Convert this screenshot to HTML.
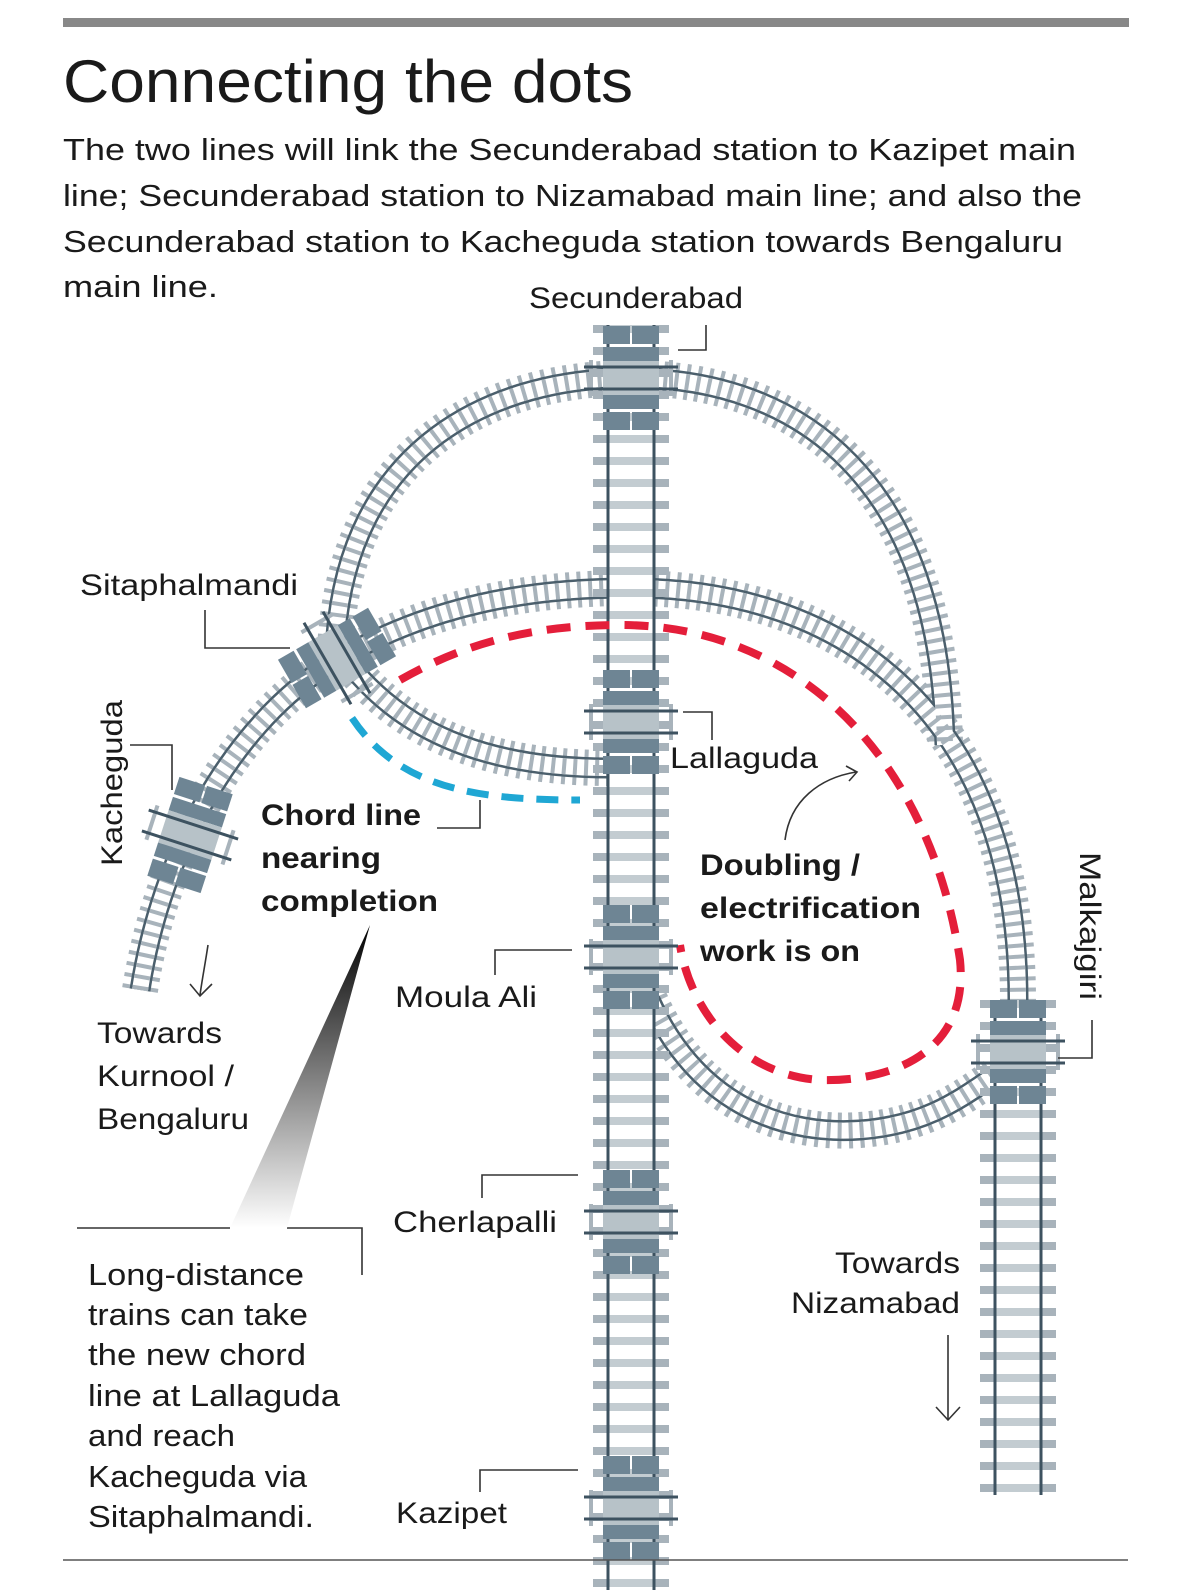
<!DOCTYPE html>
<html><head><meta charset="utf-8"><style>
html,body{margin:0;padding:0;background:#fff}
svg{display:block}
text{font-family:"Liberation Sans",sans-serif;fill:#1a1a1a}
</style></head><body>
<svg width="1200" height="1593" viewBox="0 0 1200 1593" xmlns="http://www.w3.org/2000/svg">
<defs>
<linearGradient id="gr" x1="0" y1="0" x2="0" y2="1"><stop offset="0" stop-color="#000"/><stop offset="1" stop-color="#fff"/></linearGradient>
<g id="st">
<rect x="-28" y="-52" width="27" height="18" fill="#6e8594"/><rect x="1" y="-52" width="27" height="18" fill="#6e8594"/>
<rect x="-28" y="-31" width="56" height="14" fill="#6e8594"/>
<rect x="-28" y="-17" width="56" height="34" fill="#b7c2c8"/>
<rect x="-28" y="17" width="56" height="14" fill="#6e8594"/>
<rect x="-28" y="34" width="27" height="18" fill="#6e8594"/><rect x="1" y="34" width="27" height="18" fill="#6e8594"/>
<rect x="-42" y="-18" width="4" height="36" fill="#a8b3bb"/><rect x="38" y="-18" width="4" height="36" fill="#a8b3bb"/>
<line x1="-47" y1="-11" x2="47" y2="-11" stroke="#3d5260" stroke-width="3"/>
<line x1="-47" y1="11" x2="47" y2="11" stroke="#3d5260" stroke-width="3"/>
</g>
</defs>

<rect x="63" y="18" width="1066" height="9" fill="#888"/>
<text x="63" y="102" font-size="60" textLength="570" lengthAdjust="spacingAndGlyphs">Connecting the dots</text>
<g font-size="31">
<text x="63" y="160" textLength="1013" lengthAdjust="spacingAndGlyphs">The two lines will link the Secunderabad station to Kazipet main</text>
<text x="63" y="206" textLength="1019" lengthAdjust="spacingAndGlyphs">line; Secunderabad station to Nizamabad main line; and also the</text>
<text x="63" y="252" textLength="1000" lengthAdjust="spacingAndGlyphs">Secunderabad station to Kacheguda station towards Bengaluru</text>
<text x="63" y="297" textLength="155" lengthAdjust="spacingAndGlyphs">main line.</text>
</g>

<g fill="none">
<g id="curves">
<path id="c1" d="M335 650 C345 440 500 378 630 378 C800 378 940 480 945 745"/>
<path id="c2" d="M140 990 C165 830 250 710 337 660 C430 605 530 588 630 588 C850 588 1018 720 1018 1000"/>
<path id="c3" d="M350 665 C410 740 500 768 610 768"/>
<path id="c4" d="M650 1000 C700 1110 790 1135 860 1130 C930 1125 965 1095 1000 1072"/>
</g>
<g stroke="#a8b3bb" stroke-width="36" stroke-dasharray="4 7">
<use href="#c1"/><use href="#c2"/><use href="#c3"/><use href="#c4"/></g>
<g stroke="#4b5f6c" stroke-width="21">
<use href="#c1"/><use href="#c2"/><use href="#c3"/><use href="#c4"/></g>
<g stroke="#fff" stroke-width="16">
<use href="#c1"/><use href="#c2"/><use href="#c3"/><use href="#c4"/></g>
<g stroke="#a8b3bb" stroke-width="16" stroke-dasharray="4 7">
<use href="#c1"/><use href="#c2"/><use href="#c3"/><use href="#c4"/></g>

<path id="m1" d="M631 325 V1590"/>
<path id="m2" d="M1018 1000 V1495"/>
<g stroke="#a8b3bb" stroke-width="76" stroke-dasharray="8 14"><use href="#m1"/><use href="#m2"/></g>
<g stroke="#3d5260" stroke-width="49"><use href="#m1"/><use href="#m2"/></g>
<g stroke="#fff" stroke-width="43"><use href="#m1"/><use href="#m2"/></g>
<g stroke="#c3ccd1" stroke-width="43" stroke-dasharray="8 14"><use href="#m1"/><use href="#m2"/></g>

<path d="M400 680 C470 640 540 625 620 625 C800 625 930 760 960 960 C970 1060 880 1082 820 1080 C740 1075 690 1010 680 945" stroke="#e41e3a" stroke-width="8" stroke-dasharray="24 15"/>
<path d="M352 718 C400 790 480 800 580 800" stroke="#1fa7d4" stroke-width="7" stroke-dasharray="22 13"/>
</g>

<use href="#st" x="631" y="378"/>
<use href="#st" x="631" y="722"/>
<use href="#st" x="631" y="957"/>
<use href="#st" x="631" y="1222"/>
<use href="#st" x="631" y="1508"/>
<use href="#st" x="1018" y="1052"/>
<use href="#st" transform="translate(337,658) rotate(60)"/>
<use href="#st" transform="translate(190,835) rotate(18)"/>

<g fill="none" stroke="#333" stroke-width="1.6">
<polyline points="678,350 706,350 706,325"/>
<polyline points="205,610 205,648 290,648"/>
<polyline points="130,745 172,745 172,790"/>
<polyline points="683,712 712,712 712,740"/>
<polyline points="437,828 480,828 480,800"/>
<polyline points="495,975 495,950 572,950"/>
<polyline points="482,1198 482,1175 578,1175"/>
<polyline points="480,1492 480,1470 578,1470"/>
<polyline points="1058,1058 1092,1058 1092,1020"/>
<polyline points="77,1228 230,1228"/>
<polyline points="362,1275 362,1228 287,1228"/>
<path d="M785 840 C790 800 820 778 856 772"/>
<polyline points="846,766 857,772 849,781"/>
<path d="M208 945 C205 965 202 980 200 995"/>
<polyline points="190,984 200,996 212,984"/>
<line x1="948" y1="1335" x2="948" y2="1420"/>
<polyline points="936,1407 948,1420 960,1407"/>
</g>
<polygon points="370,925 230,1228 287,1228" fill="url(#gr)"/>
<line x1="63" y1="1560" x2="1128" y2="1560" stroke="#555" stroke-width="1.6"/>

<g font-size="30" lengthAdjust="spacingAndGlyphs">
<text x="529" y="308" textLength="214" lengthAdjust="spacingAndGlyphs">Secunderabad</text>
<text x="80" y="595" textLength="218" lengthAdjust="spacingAndGlyphs">Sitaphalmandi</text>
<text transform="translate(122,783) rotate(-90)" text-anchor="middle" textLength="166" lengthAdjust="spacingAndGlyphs">Kacheguda</text>
<text x="670" y="768" textLength="148" lengthAdjust="spacingAndGlyphs">Lallaguda</text>
<text x="395" y="1007" textLength="142" lengthAdjust="spacingAndGlyphs">Moula Ali</text>
<text x="97" y="1043" textLength="125" lengthAdjust="spacingAndGlyphs">Towards</text>
<text x="97" y="1086" textLength="137" lengthAdjust="spacingAndGlyphs">Kurnool /</text>
<text x="97" y="1129" textLength="152" lengthAdjust="spacingAndGlyphs">Bengaluru</text>
<text x="393" y="1232" textLength="164" lengthAdjust="spacingAndGlyphs">Cherlapalli</text>
<text x="835" y="1273" textLength="125" lengthAdjust="spacingAndGlyphs">Towards</text>
<text x="791" y="1313" textLength="169" lengthAdjust="spacingAndGlyphs">Nizamabad</text>
<text transform="translate(1080,926) rotate(90)" text-anchor="middle" textLength="148" lengthAdjust="spacingAndGlyphs">Malkajgiri</text>
<text x="396" y="1523" textLength="111" lengthAdjust="spacingAndGlyphs">Kazipet</text>
</g>
<g font-size="30" font-weight="bold">
<text x="261" y="825" textLength="160" lengthAdjust="spacingAndGlyphs">Chord line</text>
<text x="261" y="868" textLength="120" lengthAdjust="spacingAndGlyphs">nearing</text>
<text x="261" y="911" textLength="177" lengthAdjust="spacingAndGlyphs">completion</text>
<text x="700" y="875" textLength="160" lengthAdjust="spacingAndGlyphs">Doubling /</text>
<text x="700" y="918" textLength="221" lengthAdjust="spacingAndGlyphs">electrification</text>
<text x="700" y="961" textLength="160" lengthAdjust="spacingAndGlyphs">work is on</text>
</g>
<g font-size="31">
<text x="88" y="1285" textLength="216" lengthAdjust="spacingAndGlyphs">Long-distance</text>
<text x="88" y="1325" textLength="220" lengthAdjust="spacingAndGlyphs">trains can take</text>
<text x="88" y="1365" textLength="218" lengthAdjust="spacingAndGlyphs">the new chord</text>
<text x="88" y="1406" textLength="252" lengthAdjust="spacingAndGlyphs">line at Lallaguda</text>
<text x="88" y="1446" textLength="147" lengthAdjust="spacingAndGlyphs">and reach</text>
<text x="88" y="1487" textLength="219" lengthAdjust="spacingAndGlyphs">Kacheguda via</text>
<text x="88" y="1527" textLength="226" lengthAdjust="spacingAndGlyphs">Sitaphalmandi.</text>
</g>
</svg>
</body></html>
